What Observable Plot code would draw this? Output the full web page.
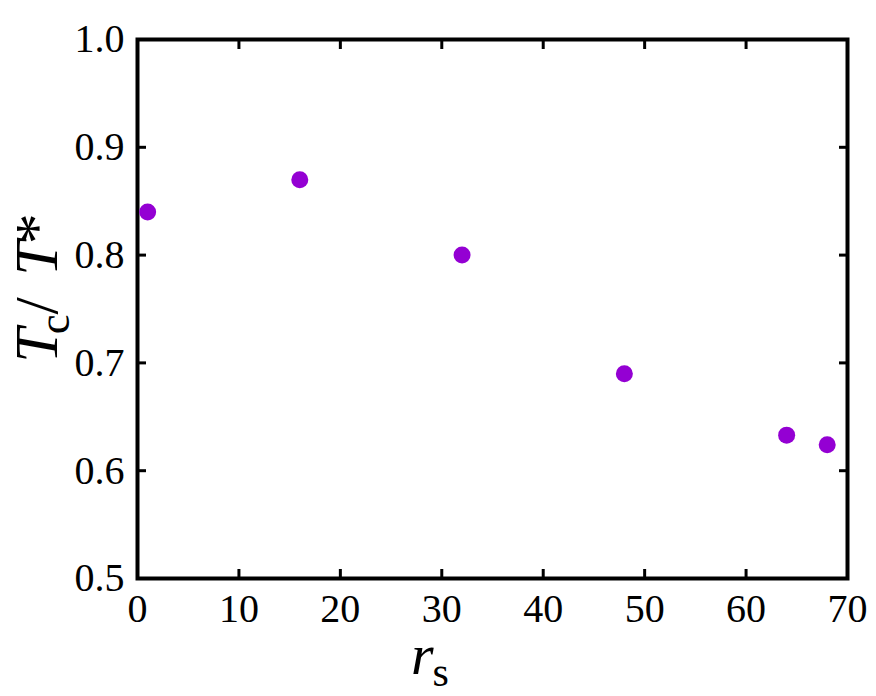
<!DOCTYPE html>
<html>
<head>
<meta charset="utf-8">
<script src="https://cdn.jsdelivr.net/npm/d3@7"></script>
<script src="https://cdn.jsdelivr.net/npm/@observablehq/plot@0.6"></script>
<style>
  html, body { margin: 0; padding: 0; background: #fff; }
  svg { overflow: visible; }
</style>
</head>
<body>
<div id="chart"></div>
<script>
const rs = [1, 16, 32, 48, 64, 68];
const tcRatio = [0.84, 0.87, 0.80, 0.69, 0.633, 0.624];
const xTicks = [0, 10, 20, 30, 40, 50, 60, 70];
const yTicks = [0.5, 0.6, 0.7, 0.8, 0.9, 1.0];

const data = rs.map((r, i) => ({r, t: tcRatio[i]}));
const font = "'Liberation Serif', 'Times New Roman', Times, serif";

const chart = Plot.plot({
  width: 876,
  height: 696,
  marginLeft: 137,
  marginRight: 29,
  marginTop: 39,
  marginBottom: 118,
  style: {fontFamily: font, background: "#fff"},
  x: {domain: [0, 70]},
  y: {domain: [0.5, 1.0]},
  marks: [
    Plot.axisX(xTicks, {anchor: "bottom", tickSize: 0, tickPadding: 15, fontSize: 40, fontFamily: font, fill: "#000", label: null, tickFormat: d3.format("d")}),
    Plot.axisY(yTicks, {anchor: "left", tickSize: 0, tickPadding: 13, fontSize: 40, fontFamily: font, fill: "#000", label: null, tickFormat: d3.format(".1f")}),
    Plot.axisX(xTicks, {anchor: "bottom", tickSize: -9, strokeWidth: 3, stroke: "#000", tickFormat: () => "", label: null}),
    Plot.axisX(xTicks, {anchor: "top", tickSize: -9, strokeWidth: 3, stroke: "#000", tickFormat: () => "", label: null}),
    Plot.axisY(yTicks, {anchor: "left", tickSize: -9, strokeWidth: 3, stroke: "#000", tickFormat: () => "", label: null}),
    Plot.axisY(yTicks, {anchor: "right", tickSize: -9, strokeWidth: 3, stroke: "#000", tickFormat: () => "", label: null}),
    Plot.frame({stroke: "#000", strokeWidth: 4}),
    Plot.dot(data, {x: "r", y: "t", r: 8.5, fill: "#9400D3", stroke: "none"})
  ]
});

document.getElementById("chart").appendChild(chart);

const svg = d3.select(chart);
// Y axis label: T_c / T*
const yl = svg.append("text")
  .attr("transform", "translate(57,288) rotate(-90)")
  .attr("text-anchor", "middle")
  .style("font-family", font)
  .attr("font-size", 62)
  .attr("fill", "#000");
yl.append("tspan").attr("font-style", "italic").text("T");
yl.append("tspan").attr("font-size", 45).attr("dx", -6).attr("dy", 12).text("c");
yl.append("tspan").attr("dy", -12).attr("dx", 0).text("/");
yl.append("tspan").attr("font-style", "italic").attr("dx", 6).text("\u00a0T");
yl.append("tspan").attr("dx", -3).text("*");

// X axis label: r_s
const xl = svg.append("text")
  .attr("x", 430)
  .attr("y", 674)
  .style("font-family", font)
  .attr("font-size", 58)
  .attr("fill", "#000");
xl.append("tspan").attr("font-style", "italic").text("r");
xl.append("tspan").attr("font-size", 42).attr("dx", -1).attr("dy", 12).text("s");
</script>
</body>
</html>
